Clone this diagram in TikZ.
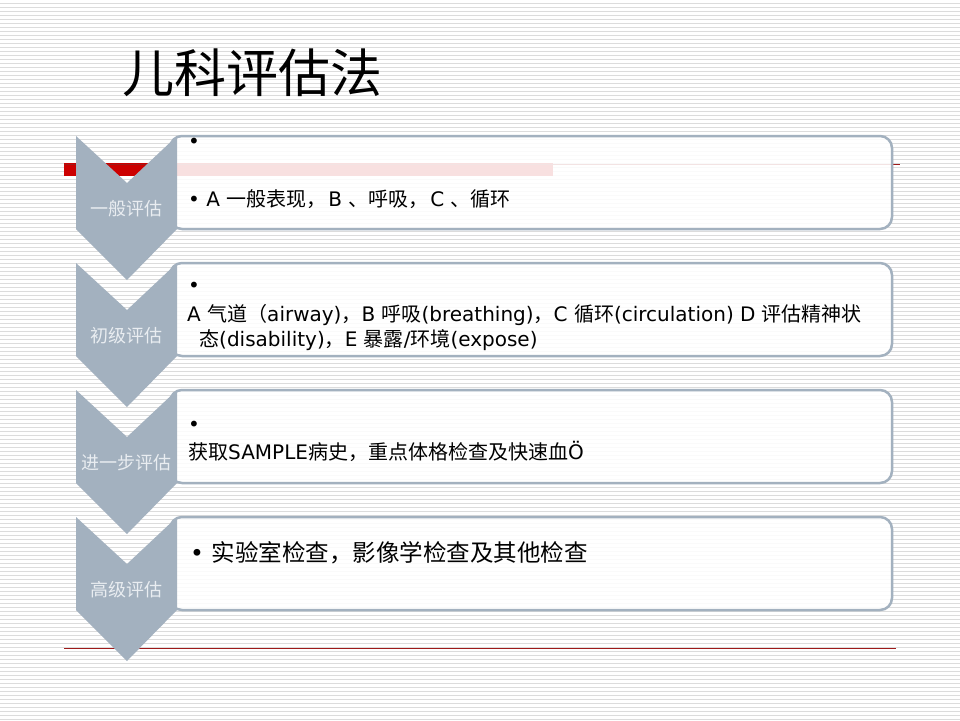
\documentclass[tikz,border=0pt]{standalone}
\usepackage{fontspec}
\setmainfont{DejaVu Sans}
\newfontfamily\cjk{Noto Sans CJK SC}
\newcommand{\zh}[1]{{\cjk #1}}
\definecolor{chev}{HTML}{A3B1BF}
\definecolor{stripe}{HTML}{DCDCDC}
\definecolor{redbar}{HTML}{CC0000}
\definecolor{redline}{HTML}{9E1A1A}
\definecolor{lab}{HTML}{E9EDF1}
\tikzset{
  chevshape/.style={fill=chev},
  boxshape/.style={draw=chev, line width=2.5pt, fill=white, fill opacity=0.88, draw opacity=1, rounded corners=12pt},
  chevlabel/.style={text=lab, font=\cjk\fontsize{18}{20}\selectfont, anchor=base, inner sep=0pt},
  boxtext/.style={text=black, font=\fontsize{20}{24}\selectfont, anchor=base west, inner sep=0pt},
}
\begin{document}
\begin{tikzpicture}[x=1pt,y=-1pt]
\useasboundingbox (0,0) rectangle (960,720);
\fill[white] (0,0) rectangle (960,720);
\foreach \i in {0,...,179} \fill[stripe] (0,{4*\i+2.9}) rectangle (960,{4*\i+4.2});
% title
\node[anchor=base west, inner sep=0pt, font=\cjk\fontsize{52}{56}\selectfont] (title) at (122,92) {儿科评估法};
% red decorations
\fill[redbar] (64,163) rectangle (553,175.5);
\draw[redline, line width=1pt] (64,164) -- (900,164);
\draw[redline, line width=1.5pt] (64,648.3) -- (896,648.3);
% boxes
\foreach \T in {136,263,390,517}{
  \draw[boxshape] (170,\T) rectangle (892,\T+93);
}
% chevrons
\foreach \T/\name/\txt in {136/c1/一般评估,263/c2/初级评估,390/c3/进一步评估,517/c4/高级评估}{
  \fill[chevshape] (76,\T) -- (127,\T+47) -- (177,\T) -- (177,\T+93) -- (127,\T+144) -- (76,\T+93) -- cycle;
  \node[chevlabel] (\name) at (126.5,\T+79) {\txt};
}
% box 1
\node[boxtext] (b1a) at (188,148) {•};
\node[boxtext] (b1b) at (188,206.5) {• A \zh{一般表现，}\hspace{2pt}B \zh{、呼吸，}\hspace{2pt}C \zh{、循环}};
% box 2
\node[boxtext] (b2a) at (188,292) {•};
\node[boxtext] (b2b) at (187,321) {A \zh{气道（}airway)\zh{，}B \zh{呼吸}(breathing)\zh{，}C \zh{循环}(circulation) D \zh{评估精神状}};
\node[boxtext] (b2c) at (199,346) {\zh{态}(disability)\zh{，}E \zh{暴露}/\zh{环境}(expose)};
% box 3
\node[boxtext] (b3a) at (188,431) {•};
\node[boxtext] (b3b) at (188,459.5) {\zh{获取}SAMPLE\zh{病史，重点体格检查及快速血}Ö};
% box 4
\node[boxtext, font=\fontsize{23.5}{27}\selectfont] (b4a) at (190,561.5) {• \zh{实验室检查，影像学检查及其他检查}};
\end{tikzpicture}
\end{document}
